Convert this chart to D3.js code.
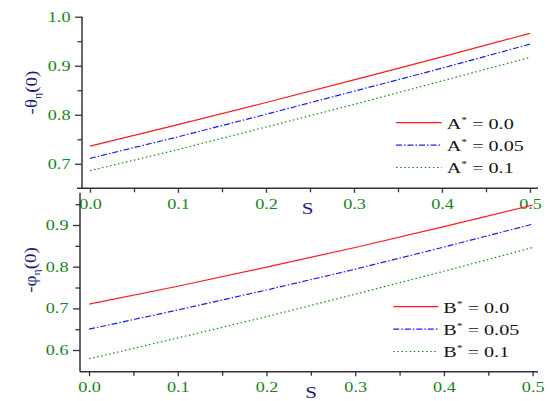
<!DOCTYPE html>
<html><head><meta charset="utf-8">
<script src="https://cdn.jsdelivr.net/npm/d3@7"></script>
<style>html,body{margin:0;padding:0;background:#fff;overflow:hidden}</style>
</head><body><svg id="c" width="552" height="401"></svg>
<script>
// ---- data ----
const sValues = [0.0, 0.1, 0.2, 0.3, 0.4, 0.5];
const xMinorTicks = [0.05, 0.15, 0.25, 0.35, 0.45];
const topYTicks = [0.7, 0.8, 0.9, 1.0];
const topYMinor = [0.75, 0.85, 0.95];
const botYTicks = [0.6, 0.7, 0.8, 0.9];
const botYMinor = [0.65, 0.75, 0.85, 0.95];
const topA00 = [0.736, 0.780, 0.825, 0.871, 0.918, 0.966];
const topA05 = [0.711, 0.755, 0.801, 0.848, 0.895, 0.944];
const topA10 = [0.686, 0.729, 0.775, 0.821, 0.869, 0.917];
const botB00 = [0.710, 0.753, 0.799, 0.846, 0.896, 0.948];
const botB05 = [0.650, 0.696, 0.744, 0.794, 0.847, 0.902];
const botB10 = [0.579, 0.629, 0.680, 0.734, 0.789, 0.846];
const topLegendLabels = ["0.0", "0.05", "0.1"];
const botLegendLabels = ["0.0", "0.05", "0.1"];

const colors = ["#ff1a1a", "#1a1aff", "#0a8a0a"];
const dashes = [null, "6,2,1.5,2", "1.5,2.6"];
const FONT = "'Liberation Serif','Times New Roman',serif";
const tickColor = "#118811";
const titleColor = "#1a1a80";

const svg = d3.select("#c");

function panel(cfg) {
  const { x, y, series, yTicks, yMinor, legend, legendLetter, lx, ly, ltx, sx, sy, ytx, yty, ySym, axisLeftX, xAxisStart } = cfg;
  const g = svg.append("g");
  const [x0, x1] = x.range();
  const [yb, yt] = y.range();
  g.append("line").attr("x1", axisLeftX).attr("x2", axisLeftX).attr("y1", yt).attr("y2", yb)
    .attr("stroke", "#333").attr("stroke-width", 1.5);
  g.append("line").attr("x1", xAxisStart).attr("x2", x1).attr("y1", yb).attr("y2", yb)
    .attr("stroke", "#333").attr("stroke-width", 1.5);

  const ya = g.append("g").attr("transform", `translate(${axisLeftX},0)`)
    .call(d3.axisLeft(y).tickValues(yTicks).tickSize(7).tickSizeOuter(0).tickFormat(d3.format(".1f")));
  ya.select(".domain").remove();
  ya.selectAll("line").attr("stroke", "#333").attr("stroke-width", 1.3);
  ya.selectAll("text").attr("x", 0).attr("dy", "0.33em")
    .attr("transform", "translate(-11.5,0) scale(1.3,1)")
    .attr("fill", tickColor).attr("font-family", FONT).attr("font-size", 14);
  const ym = g.append("g").attr("transform", `translate(${axisLeftX},0)`)
    .call(d3.axisLeft(y).tickValues(yMinor).tickSize(4.5).tickSizeOuter(0).tickFormat(""));
  ym.select(".domain").remove();
  ym.selectAll("line").attr("stroke", "#333").attr("stroke-width", 1.3);

  const xa = g.append("g").attr("transform", `translate(0,${yb})`)
    .call(d3.axisBottom(x).tickValues(sValues).tickSize(4.5).tickSizeOuter(0).tickFormat(d3.format(".1f")));
  xa.select(".domain").remove();
  xa.selectAll("line").attr("stroke", "#333").attr("stroke-width", 1.3);
  xa.selectAll("text").attr("y", 0).attr("dy", 0)
    .attr("transform", "translate(0,20.5) scale(1.3,1)")
    .attr("fill", tickColor).attr("font-family", FONT).attr("font-size", 14);
  const xm = g.append("g").attr("transform", `translate(0,${yb})`)
    .call(d3.axisBottom(x).tickValues(xMinorTicks).tickSize(4).tickSizeOuter(0).tickFormat(""));
  xm.select(".domain").remove();
  xm.selectAll("line").attr("stroke", "#333").attr("stroke-width", 1.3);

  g.append("text").attr("transform", `translate(${sx},${sy}) scale(1.2,1)`)
    .attr("text-anchor", "middle").attr("font-family", FONT).attr("font-size", 17.5)
    .attr("fill", titleColor).text("S");
  const yt2 = g.append("text").attr("transform", `translate(${ytx},${yty}) rotate(-90) scale(1.12,1)`)
    .attr("text-anchor", "middle").attr("font-family", FONT).attr("font-size", 17).attr("fill", titleColor);
  yt2.append("tspan").text("-" + ySym);
  yt2.append("tspan").attr("font-size", 10.5).attr("dy", 4).text("\u03b7");
  yt2.append("tspan").attr("dy", -4).text("(0)");

  const line = d3.line().x((d, i) => x(sValues[i])).y(d => y(d));
  series.forEach((s, k) => {
    g.append("path").datum(s).attr("d", line).attr("fill", "none")
      .attr("stroke", colors[k]).attr("stroke-width", 1.2)
      .attr("stroke-dasharray", dashes[k]);
  });

  legend.forEach((lab, k) => {
    const yy = ly + k * 22.4;
    g.append("line").attr("x1", lx[0]).attr("x2", lx[1]).attr("y1", yy).attr("y2", yy)
      .attr("stroke", colors[k]).attr("stroke-width", 1.2).attr("stroke-dasharray", dashes[k]);
    const t = g.append("text").attr("transform", `translate(${ltx},${yy + 5.8}) scale(1.3,1)`)
      .attr("font-family", FONT).attr("font-size", 15.5).attr("fill", "#111");
    t.append("tspan").text(legendLetter);
    t.append("tspan").attr("font-size", 9).attr("dy", -6).text("*");
    t.append("tspan").attr("dy", 6).text(" = " + lab);
  });
}

panel({
  x: d3.scaleLinear([-0.00909, 0.50909], [82, 538]),
  y: d3.scaleLinear([0.65, 1.0], [188.3, 16.7]),
  series: [topA00, topA05, topA10], yTicks: topYTicks, yMinor: topYMinor,
  legend: topLegendLabels, legendLetter: "A", lx: [396, 441.7], ly: 122.7, ltx: 446.7,
  sx: 307.5, sy: 213.5, ytx: 36.5, yty: 92.5, ySym: "\u03b8", axisLeftX: 82, xAxisStart: 77
});
panel({
  x: d3.scaleLinear([-0.0102, 0.506], [80, 538]),
  y: d3.scaleLinear([0.548, 0.9775], [371.7, 192.7]),
  series: [botB00, botB05, botB10], yTicks: botYTicks, yMinor: botYMinor,
  legend: botLegendLabels, legendLetter: "B", lx: [393.3, 438.3], ly: 306.7, ltx: 443.3,
  sx: 311, sy: 397.5, ytx: 35.5, yty: 270, ySym: "\u03c6", axisLeftX: 80, xAxisStart: 80
});
</script></body></html>
